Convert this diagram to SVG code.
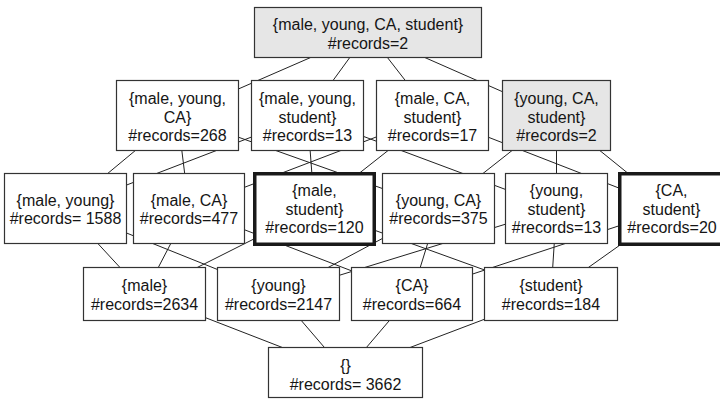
<svg xmlns="http://www.w3.org/2000/svg" width="720" height="399" viewBox="0 0 720 399">
  <style>
    .box { fill: #ffffff; stroke: #333333; stroke-width: 1.2; }
    .shaded { fill: #e6e6e6; }
    .bold { stroke: #1a1a1a; stroke-width: 3.5; }
    .lbl { font-family: "Liberation Sans", Arial, sans-serif; font-size: 16px; fill: #151515; text-anchor: middle; }
    .edges line { stroke: #222222; stroke-width: 1; }
  </style>
  <rect width="720" height="399" fill="#ffffff"/>

  <!-- lattice edges, centre to centre, painted beneath the boxes -->
  <g id="edges" class="edges">
    <!-- top to 3-sets -->
    <line x1="368" y1="32.5" x2="177.5" y2="115.5"/>
    <line x1="368" y1="32.5" x2="307.5" y2="115.5"/>
    <line x1="368" y1="32.5" x2="432.5" y2="115.5"/>
    <line x1="368" y1="32.5" x2="556.5" y2="115.5"/>
    <!-- 3-sets to 2-sets -->
    <line x1="177.5" y1="115.5" x2="65.5" y2="208.5"/>
    <line x1="177.5" y1="115.5" x2="189" y2="208.5"/>
    <line x1="177.5" y1="115.5" x2="438.5" y2="208.5"/>
    <line x1="307.5" y1="115.5" x2="65.5" y2="208.5"/>
    <line x1="307.5" y1="115.5" x2="314.5" y2="208.5"/>
    <line x1="307.5" y1="115.5" x2="556.5" y2="208.5"/>
    <line x1="432.5" y1="115.5" x2="189" y2="208.5"/>
    <line x1="432.5" y1="115.5" x2="314.5" y2="208.5"/>
    <line x1="432.5" y1="115.5" x2="671.5" y2="208.5"/>
    <line x1="556.5" y1="115.5" x2="438.5" y2="208.5"/>
    <line x1="556.5" y1="115.5" x2="556.5" y2="208.5"/>
    <line x1="556.5" y1="115.5" x2="671.5" y2="208.5"/>
    <!-- 2-sets to 1-sets -->
    <line x1="65.5" y1="208.5" x2="144.5" y2="294"/>
    <line x1="65.5" y1="208.5" x2="278.5" y2="294"/>
    <line x1="189" y1="208.5" x2="144.5" y2="294"/>
    <line x1="189" y1="208.5" x2="412" y2="294"/>
    <line x1="314.5" y1="208.5" x2="144.5" y2="294"/>
    <line x1="314.5" y1="208.5" x2="551" y2="294"/>
    <line x1="438.5" y1="208.5" x2="278.5" y2="294"/>
    <line x1="438.5" y1="208.5" x2="412" y2="294"/>
    <line x1="556.5" y1="208.5" x2="278.5" y2="294"/>
    <line x1="556.5" y1="208.5" x2="551" y2="294"/>
    <line x1="671.5" y1="208.5" x2="412" y2="294"/>
    <line x1="671.5" y1="208.5" x2="551" y2="294"/>
    <!-- 1-sets to empty set -->
    <line x1="144.5" y1="294" x2="345.5" y2="372"/>
    <line x1="278.5" y1="294" x2="345.5" y2="372"/>
    <line x1="412" y1="294" x2="345.5" y2="372"/>
    <line x1="551" y1="294" x2="345.5" y2="372"/>
  </g>

  <!-- level 4 -->
  <g id="n-male-young-CA-student">
    <rect class="box shaded" x="254.5" y="7.5" width="227" height="50"/>
    <text class="lbl" x="368" y="30">{male, young, CA, student}</text>
    <text class="lbl" x="368" y="48.5">#records=2</text>
  </g>

  <!-- level 3 -->
  <g id="n-male-young-CA">
    <rect class="box" x="116.5" y="80.5" width="122" height="70"/>
    <text class="lbl" x="177.5" y="104">{male, young,</text>
    <text class="lbl" x="177.5" y="122.5">CA}</text>
    <text class="lbl" x="177.5" y="141">#records=268</text>
  </g>
  <g id="n-male-young-student">
    <rect class="box" x="251.5" y="80.5" width="112" height="70"/>
    <text class="lbl" x="307.5" y="104">{male, young,</text>
    <text class="lbl" x="307.5" y="122.5">student}</text>
    <text class="lbl" x="307.5" y="141">#records=13</text>
  </g>
  <g id="n-male-CA-student">
    <rect class="box" x="376.5" y="80.5" width="112" height="70"/>
    <text class="lbl" x="432.5" y="104">{male, CA,</text>
    <text class="lbl" x="432.5" y="122.5">student}</text>
    <text class="lbl" x="432.5" y="141">#records=17</text>
  </g>
  <g id="n-young-CA-student">
    <rect class="box shaded" x="502.5" y="80.5" width="108" height="70"/>
    <text class="lbl" x="556.5" y="104">{young, CA,</text>
    <text class="lbl" x="556.5" y="122.5">student}</text>
    <text class="lbl" x="556.5" y="141">#records=2</text>
  </g>

  <!-- level 2 -->
  <g id="n-male-young">
    <rect class="box" x="4.5" y="173.5" width="122" height="70"/>
    <text class="lbl" x="65.5" y="205.5">{male, young}</text>
    <text class="lbl" x="65.5" y="224">#records= 1588</text>
  </g>
  <g id="n-male-CA">
    <rect class="box" x="133.5" y="173.5" width="111" height="70"/>
    <text class="lbl" x="189" y="205.5">{male, CA}</text>
    <text class="lbl" x="189" y="224">#records=477</text>
  </g>
  <g id="n-male-student">
    <rect class="box bold" x="254.75" y="173.75" width="119.5" height="70.5"/>
    <text class="lbl" x="314.5" y="196">{male,</text>
    <text class="lbl" x="314.5" y="214.5">student}</text>
    <text class="lbl" x="314.5" y="233">#records=120</text>
  </g>
  <g id="n-young-CA">
    <rect class="box" x="382.5" y="173.5" width="112" height="70"/>
    <text class="lbl" x="438.5" y="205.5">{young, CA}</text>
    <text class="lbl" x="438.5" y="224">#records=375</text>
  </g>
  <g id="n-young-student">
    <rect class="box" x="505.5" y="173.5" width="102" height="70"/>
    <text class="lbl" x="556.5" y="196">{young,</text>
    <text class="lbl" x="556.5" y="214.5">student}</text>
    <text class="lbl" x="556.5" y="233">#records=13</text>
  </g>
  <g id="n-CA-student">
    <rect class="box bold" x="619.75" y="173.75" width="104" height="70.5"/>
    <text class="lbl" x="671.5" y="196">{CA,</text>
    <text class="lbl" x="671.5" y="214.5">student}</text>
    <text class="lbl" x="672" y="233">#records=20</text>
  </g>

  <!-- level 1 -->
  <g id="n-male">
    <rect class="box" x="83.5" y="267.5" width="122" height="53"/>
    <text class="lbl" x="144.5" y="291">{male}</text>
    <text class="lbl" x="144.5" y="309.5">#records=2634</text>
  </g>
  <g id="n-young">
    <rect class="box" x="217.5" y="267.5" width="122" height="53"/>
    <text class="lbl" x="278.5" y="291">{young}</text>
    <text class="lbl" x="278.5" y="309.5">#records=2147</text>
  </g>
  <g id="n-CA">
    <rect class="box" x="351.5" y="267.5" width="121" height="53"/>
    <text class="lbl" x="412" y="291">{CA}</text>
    <text class="lbl" x="412" y="309.5">#records=664</text>
  </g>
  <g id="n-student">
    <rect class="box" x="484.5" y="267.5" width="133" height="53"/>
    <text class="lbl" x="551" y="291">{student}</text>
    <text class="lbl" x="551" y="309.5">#records=184</text>
  </g>

  <!-- level 0 -->
  <g id="n-empty">
    <rect class="box" x="268.5" y="347.5" width="154" height="50"/>
    <text class="lbl" x="345.5" y="371">{}</text>
    <text class="lbl" x="345.5" y="389.5">#records= 3662</text>
  </g>
</svg>
